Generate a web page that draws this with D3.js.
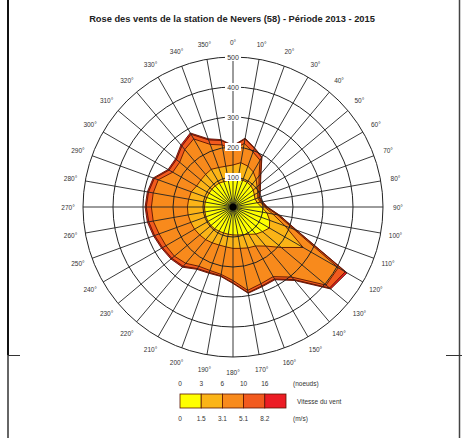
<!DOCTYPE html>
<html>
<head>
<meta charset="utf-8">
<script src="https://cdn.jsdelivr.net/npm/d3@7"></script>
<style>
  body { margin: 0; background: #fff; }
  svg { display: block; }
  text { font-family: "Liberation Sans", Arial, sans-serif; }
</style>
</head>
<body>
<svg id="chart" width="462" height="438"></svg>
<script>
// directions (degrees) and frequency per speed class
const directions = [0, 10, 20, 30, 40, 50, 60, 70, 80, 90, 100, 110, 120, 130, 140, 150, 160, 170,
  180, 190, 200, 210, 220, 230, 240, 250, 260, 270, 280, 290, 300, 310, 320, 330, 340, 350];
const speed0to15 = [90, 92, 95, 95, 92, 88, 82, 78, 82, 95, 115, 130, 140, 128, 118, 105, 98, 95,
  93, 92, 92, 93, 95, 96, 96, 96, 95, 95, 94, 93, 92, 92, 92, 92, 90, 90];
const speed15to31 = [50, 58, 50, 40, 28, 17, 13, 10, 10, 10, 20, 55, 130, 82, 52, 45, 47, 45,
  45, 43, 43, 45, 47, 49, 52, 54, 57, 57, 56, 55, 48, 48, 50, 53, 50, 48];
const speed31to51 = [50, 65, 50, 45, 15, 8, 5, 4, 4, 5, 15, 30, 135, 195, 135, 118, 127, 142,
  107, 93, 90, 90, 103, 110, 110, 112, 118, 120, 120, 117, 92, 92, 108, 117, 82, 72];
const speed51to82 = [13, 15, 13, 11, 8, 5, 4, 2, 3, 3, 6, 8, 27, 15, 11, 9, 8, 8,
  8, 5, 7, 9, 13, 11, 13, 16, 15, 17, 16, 14, 14, 14, 15, 18, 16, 15];
const speedOver82 = [2, 3, 2, 2, 2, 2, 1, 1, 1, 2, 2, 3, 7, 5, 4, 3, 3, 2,
  2, 2, 3, 3, 4, 4, 4, 4, 5, 4, 4, 4, 4, 4, 5, 5, 4, 3];

const classKeys = ["s1", "s2", "s3", "s4", "s5"];
const classColors = ["#ffff00", "#fbb417", "#f88a1c", "#f25a1e", "#ec1c24"];
const ringTicks = [100, 200, 300, 400, 500];
const knotLabels = ["0", "3", "6", "10", "16"];
const msLabels = ["0", "1.5", "3.1", "5.1", "8.2"];

const svg = d3.select("#chart");
const cx = 233, cy = 207;

const rScale = d3.scaleLinear().domain([0, 500]).range([0, 150]);
const aScale = d3.scaleLinear().domain([0, 360]).range([0, 2 * Math.PI]);

const rows = directions.map((d, i) => ({
  dir: d,
  s1: speed0to15[i],
  s2: speed15to31[i],
  s3: speed31to51[i],
  s4: speed51to82[i],
  s5: speedOver82[i]
}));
const series = d3.stack().keys(classKeys)(rows);

const g = svg.append("g").attr("transform", `translate(${cx},${cy})`);

// stacked rose, outermost first
const line = d3.lineRadial()
  .angle(d => aScale(d.data.dir))
  .radius(d => rScale(d[1]))
  .curve(d3.curveLinearClosed);

g.selectAll("path.band")
  .data(series.slice().reverse())
  .join("path")
  .attr("class", "band")
  .attr("d", d => line(d))
  .attr("fill", d => classColors[classKeys.indexOf(d.key)])
  .attr("stroke", "#5a1400")
  .attr("stroke-width", 0.9)
  .attr("stroke-linejoin", "round");

// grid
g.selectAll("circle.ring")
  .data(ringTicks)
  .join("circle")
  .attr("class", "ring")
  .attr("r", d => rScale(d))
  .attr("fill", "none")
  .attr("stroke", "#222")
  .attr("stroke-width", 1);

g.selectAll("line.spoke")
  .data(directions)
  .join("line")
  .attr("class", "spoke")
  .attr("x1", 0).attr("y1", 0)
  .attr("x2", d => rScale(500) * Math.sin(aScale(d)))
  .attr("y2", d => -rScale(500) * Math.cos(aScale(d)))
  .attr("stroke", "#222")
  .attr("stroke-width", 0.9);

g.append("circle").attr("r", 3.5).attr("fill", "#000");

// ring labels
const ringLab = g.selectAll("g.ringlab")
  .data(ringTicks)
  .join("g")
  .attr("class", "ringlab")
  .attr("transform", d => `translate(0,${-rScale(d)})`);
ringLab.append("rect")
  .attr("x", -8).attr("y", -4).attr("width", 16).attr("height", 8)
  .attr("fill", "#fff");
ringLab.append("text")
  .attr("text-anchor", "middle")
  .attr("dominant-baseline", "central")
  .attr("font-size", 7)
  .attr("fill", "#333")
  .text(d => d);

// direction labels
g.selectAll("text.dir")
  .data(directions)
  .join("text")
  .attr("class", "dir")
  .attr("x", d => 165 * Math.sin(aScale(d)))
  .attr("y", d => -165 * Math.cos(aScale(d)))
  .attr("text-anchor", "middle")
  .attr("dominant-baseline", "central")
  .attr("font-size", 6.5)
  .attr("fill", "#333")
  .text(d => d + "°");

// title
svg.append("text")
  .attr("x", 232).attr("y", 22)
  .attr("text-anchor", "middle")
  .attr("font-size", 9.3)
  .attr("font-weight", "bold")
  .attr("fill", "#222")
  .text("Rose des vents de la station de Nevers (58) - Période 2013 - 2015");

// legend
const lx = d3.scaleLinear().domain([0, 5]).range([180, 286]);
const leg = svg.append("g");
leg.selectAll("rect")
  .data(classColors)
  .join("rect")
  .attr("x", (d, i) => lx(i))
  .attr("y", 394)
  .attr("width", lx(1) - lx(0))
  .attr("height", 14)
  .attr("fill", d => d)
  .attr("stroke", "#5a1400")
  .attr("stroke-width", 0.8);
leg.selectAll("text.kn")
  .data(knotLabels)
  .join("text")
  .attr("class", "kn")
  .attr("x", (d, i) => lx(i))
  .attr("y", 383)
  .attr("text-anchor", "middle")
  .attr("dominant-baseline", "central")
  .attr("font-size", 6.5)
  .attr("fill", "#333")
  .text(d => d);
leg.selectAll("text.ms")
  .data(msLabels)
  .join("text")
  .attr("class", "ms")
  .attr("x", (d, i) => lx(i))
  .attr("y", 418)
  .attr("text-anchor", "middle")
  .attr("dominant-baseline", "central")
  .attr("font-size", 6.5)
  .attr("fill", "#333")
  .text(d => d);
leg.append("text").attr("x", 293).attr("y", 383).attr("dominant-baseline", "central")
  .attr("font-size", 6.5).attr("fill", "#333").text("(noeuds)");
leg.append("text").attr("x", 293).attr("y", 418).attr("dominant-baseline", "central")
  .attr("font-size", 6.5).attr("fill", "#333").text("(m/s)");
leg.append("text").attr("x", 297).attr("y", 401).attr("dominant-baseline", "central")
  .attr("font-size", 6.5).attr("fill", "#333").text("Vitesse du vent");

// frame marks
svg.append("line").attr("x1", 8).attr("y1", 0).attr("x2", 8).attr("y2", 355)
  .attr("stroke", "#111").attr("stroke-width", 2);
svg.append("line").attr("x1", 8).attr("y1", 355).attr("x2", 8).attr("y2", 438)
  .attr("stroke", "#666").attr("stroke-width", 2);
svg.append("line").attr("x1", 8).attr("y1", 355.5).attr("x2", 20).attr("y2", 355.5)
  .attr("stroke", "#333").attr("stroke-width", 1);
svg.append("line").attr("x1", 459.5).attr("y1", 0).attr("x2", 459.5).attr("y2", 438)
  .attr("stroke", "#444").attr("stroke-width", 1.5);
svg.append("line").attr("x1", 446).attr("y1", 355.5).attr("x2", 462).attr("y2", 355.5)
  .attr("stroke", "#333").attr("stroke-width", 1);
</script>
</body>
</html>
